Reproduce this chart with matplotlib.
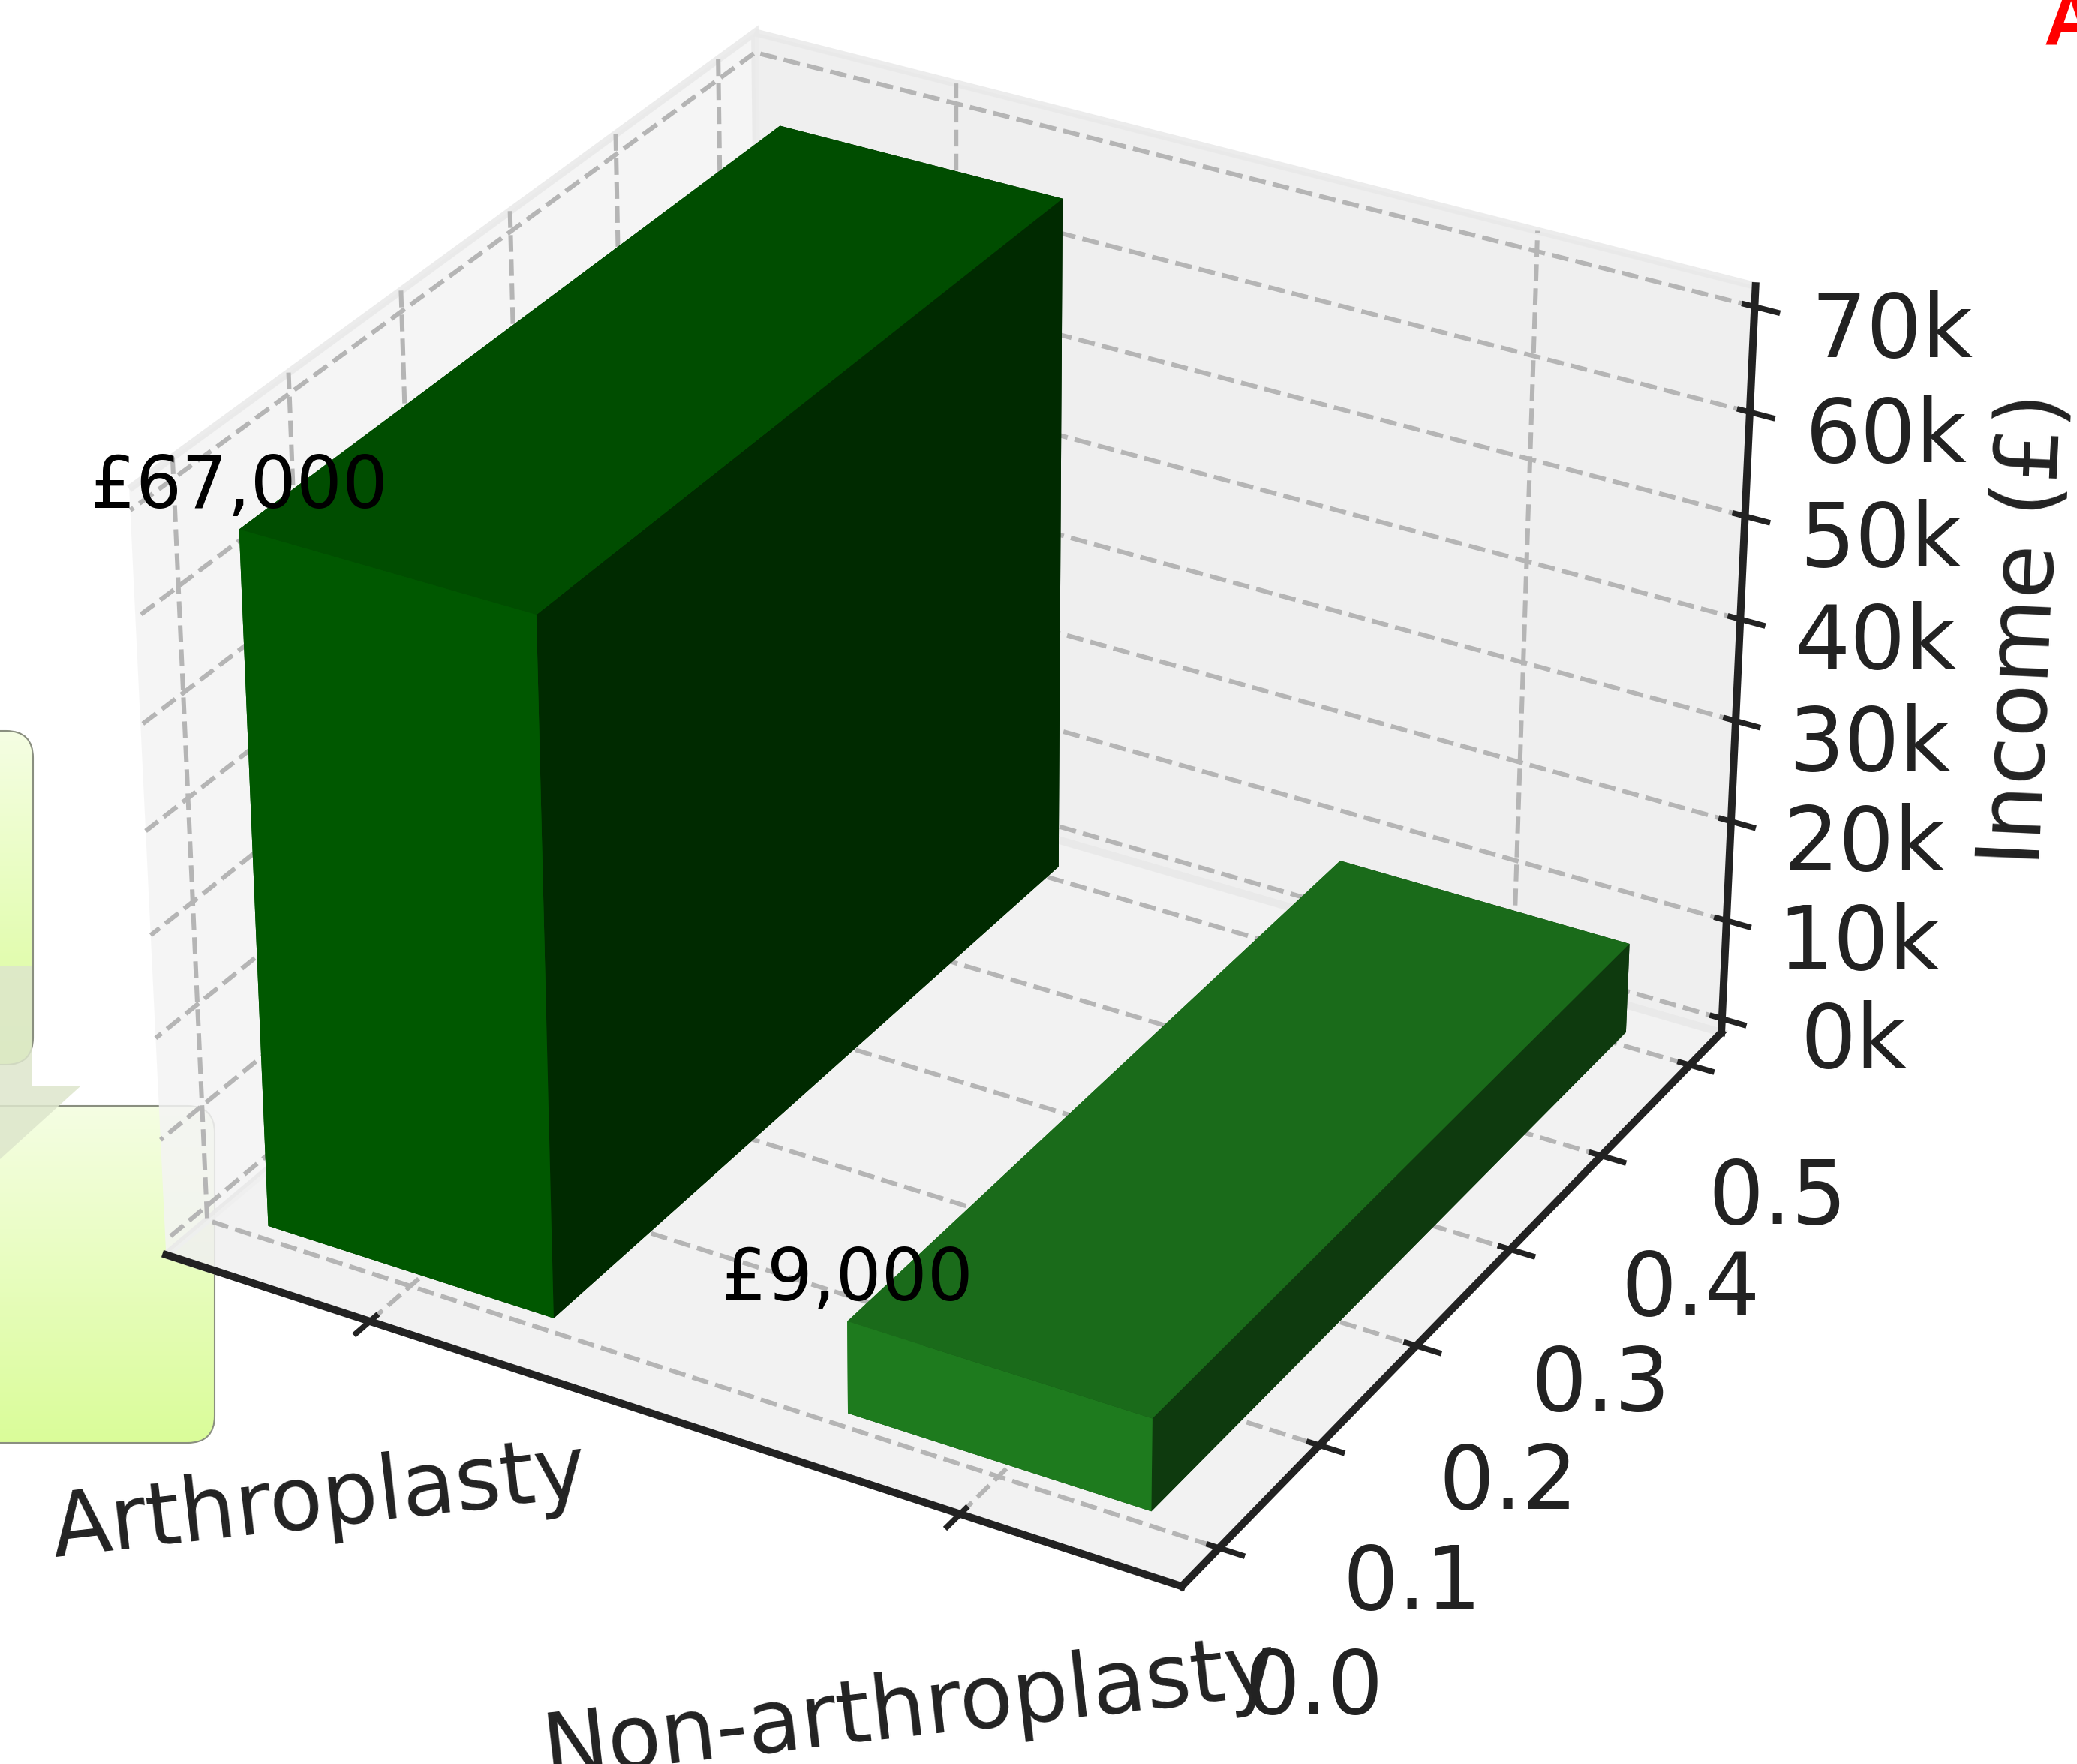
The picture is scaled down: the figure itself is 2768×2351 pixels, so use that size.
import numpy as np, matplotlib
matplotlib.use("Agg"); import matplotlib.pyplot as plt
from matplotlib.patches import FancyBboxPatch, Polygon
from matplotlib.ticker import FuncFormatter

categories=["Arthroplasty","Non-arthroplasty"]
income=[67000,9000]
labels=["£67,000","£9,000"]
colors=["darkgreen","forestgreen"]
W,H=2768,2351

plt.rcParams.update({"font.size":9})
fig=plt.figure(figsize=(W/300,H/300),dpi=300)

# bits left over from the page the chart was cut from, under the chart
ov=fig.add_axes([0,0,1,1],zorder=0); ov.axis("off")
def box(x0,y0,x1,y1):
    p=FancyBboxPatch((x0,y0),x1-x0,y1-y0,boxstyle="round,pad=0,rounding_size=36",fc="none",ec="#8a8f80",lw=0.5,zorder=3)
    ov.add_patch(p)
    g=np.linspace(0,1,200)
    c0=np.array([.96,.995,.89]); c1=np.array([.855,.99,.60])
    im=ov.imshow((c0[None,:]+(c1-c0)[None,:]*g[:,None]).reshape(200,1,3),extent=(x0,x1,y1,y0),aspect="auto",zorder=2)
    im.set_clip_path(p)
box(-60,974,44,1419)
box(-60,1474,286,1923)
ov.add_patch(Polygon([(0,1288),(42,1288),(42,1447),(108,1447),(0,1545)],fc="#dde6cc",ec="none",alpha=0.85,zorder=4))
ov.set_xlim(0,W); ov.set_ylim(H,0)

ax=fig.add_axes([-0.027,0.036,0.953,1.025],projection="3d",zorder=1)
ax.set_facecolor("none")
ax.view_init(elev=30,azim=-60)
for i,v in enumerate(income):
    ax.bar3d(i-0.25,0,0,0.5,0.5,v,color=colors[i],shade=True)
    ax.text(i-0.25,0,v+600,labels[i],fontsize=23,color="black",ha="center",va="bottom",zorder=10)
ax.set_xticks([0,1]); ax.set_xticklabels(categories,fontsize=28,rotation=6.5)
ax.set_yticks([0,.1,.2,.3,.4,.5])
ax.set_zticks(np.arange(0,70001,10000))
ax.zaxis.set_major_formatter(FuncFormatter(lambda v,p:"%dk"%(v/1000)))
ax.set_xlim(-0.36,1.36); ax.set_ylim(-0.0365,0.5365); ax.set_zlim(-1430,71950)
ax.tick_params(axis="x",labelsize=28,colors="#222222",pad=17)
ax.tick_params(axis="y",labelsize=28,colors="#222222",pad=19)
ax.tick_params(axis="z",labelsize=28,colors="#222222",pad=18.5)
ax.set_zlabel("Income (£)",fontsize=28,color="#222222",labelpad=36)
for a in (ax.xaxis,ax.yaxis,ax.zaxis):
    a._axinfo["grid"].update(color="#b5b5b5",linestyle="--",linewidth=1.45)
    a._axinfo["tick"]["linewidth"]={True:1.8,False:1.0}
    a._axinfo["tick"]["outward_factor"]=0.12
    a._axinfo["tick"]["inward_factor"]=0.27
    a.line.set_color("#222222"); a.line.set_linewidth(2.4)
ax.xaxis.set_pane_color((.955,.955,.955,.85)); ax.yaxis.set_pane_color((.93,.93,.93,.85)); ax.zaxis.set_pane_color((.94,.94,.94,.85))
for a in (ax.xaxis,ax.yaxis,ax.zaxis):
    a.pane.set_edgecolor("#e9e9e9"); a.pane.set_linewidth(2.4)

fig.text(2724/W,1-61/H,"A",color="red",fontsize=24,fontweight="bold",family="Liberation Sans",ha="left",va="baseline",clip_on=False)
fig.savefig("out.png",dpi=300)
